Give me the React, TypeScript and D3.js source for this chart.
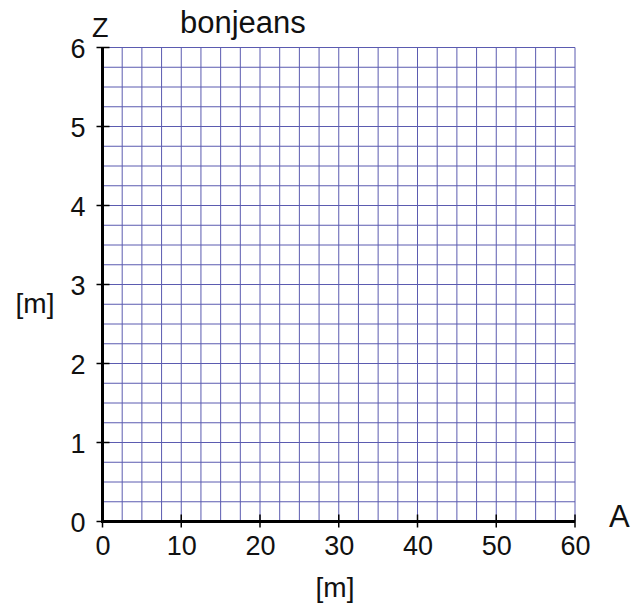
import { useEffect, useRef } from "react";
import * as d3 from "d3";

// Ejes y etiquetas
const xTicks = [0, 10, 20, 30, 40, 50, 60];
const yTicks = [0, 1, 2, 3, 4, 5, 6];
const xDomain: [number, number] = [0, 60];
const yDomain: [number, number] = [0, 6];
const xGridStep = 2.5;
const yGridStep = 0.25;
const title = "bonjeans";
const xName = "A";
const yName = "Z";
const unitLabel = "[m]";

export default function App() {
  const ref = useRef<SVGSVGElement | null>(null);

  useEffect(() => {
    if (!ref.current) return;
    const svg = d3.select(ref.current);
    svg.selectAll("*").remove();

    const font = "'Liberation Sans', Arial, sans-serif";
    const x = d3.scaleLinear().domain(xDomain).range([102.5, 575]);
    const y = d3.scaleLinear().domain(yDomain).range([521.5, 47.5]);

    // Cuadrícula
    const xGrid = d3.range(xDomain[0], xDomain[1] + 0.001, xGridStep);
    const yGrid = d3.range(yDomain[0], yDomain[1] + 0.001, yGridStep);
    const grid = svg.append("g").attr("stroke", "#4a4aa8").attr("stroke-width", 1).attr("opacity", 0.9);
    grid.selectAll("line.v").data(xGrid).join("line")
      .attr("x1", d => x(d)).attr("x2", d => x(d))
      .attr("y1", y(yDomain[0])).attr("y2", y(yDomain[1]));
    grid.selectAll("line.h").data(yGrid).join("line")
      .attr("y1", d => y(d)).attr("y2", d => y(d))
      .attr("x1", x(xDomain[0])).attr("x2", x(xDomain[1]));

    // Ejes
    const xAxis = d3.axisBottom(x).tickValues(xTicks).tickFormat(d3.format("d")).tickSize(0).tickPadding(14);
    const yAxis = d3.axisLeft(y).tickValues(yTicks).tickFormat(d3.format("d")).tickSize(0).tickPadding(17);

    const gx = svg.append("g").attr("transform", `translate(0,${y(0)})`).call(xAxis);
    const gy = svg.append("g").attr("transform", `translate(${x(0)},0)`).call(yAxis);
    [gx, gy].forEach(g => {
      g.select(".domain").remove();
      g.attr("font-size", null).attr("font-family", null);
      g.selectAll("text")
        .style("font-family", font).style("font-size", "27px").attr("fill", "#111");
    });
    gy.selectAll("text").attr("dy", "0.36em");

    // Líneas de eje gruesas
    svg.append("line")
      .attr("x1", x(0)).attr("x2", x(60)).attr("y1", y(0)).attr("y2", y(0))
      .attr("stroke", "#000").attr("stroke-width", 3);
    svg.append("line")
      .attr("x1", x(0)).attr("x2", x(0)).attr("y1", y(0) + 1.5).attr("y2", y(6))
      .attr("stroke", "#000").attr("stroke-width", 3);

    // Marcas que cruzan los ejes
    svg.append("g").selectAll("line").data(xTicks).join("line")
      .attr("x1", d => x(d)).attr("x2", d => x(d))
      .attr("y1", y(0) - 7).attr("y2", y(0) + 6)
      .attr("stroke", "#000").attr("stroke-width", 1.5);
    svg.append("g").selectAll("line").data(yTicks).join("line")
      .attr("x1", x(0) - 6).attr("x2", x(0) + 7)
      .attr("y1", d => y(d)).attr("y2", d => y(d))
      .attr("stroke", "#000").attr("stroke-width", 1.5);

    // Textos
    const label = (txt: string, px: number, py: number, size: number, anchor = "start") =>
      svg.append("text").text(txt)
        .attr("x", px).attr("y", py).attr("text-anchor", anchor)
        .style("font-family", font).style("font-size", `${size}px`).attr("fill", "#111");

    label(title, 180, 33, 31);
    label(yName, 92, 37, 27);
    label(xName, 609, 527, 31);
    label(unitLabel, 335, 597, 28, "middle");
    label(unitLabel, 35, 313, 28, "middle");
  }, []);

  return (
    <svg
      ref={ref}
      width={644}
      height={608}
      style={{ position: "absolute", left: 0, top: 0, background: "#fff" }}
    />
  );
}
